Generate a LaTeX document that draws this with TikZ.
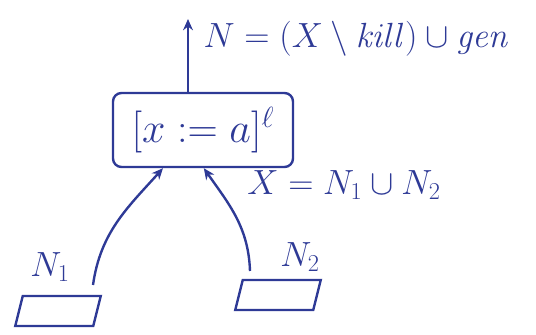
\documentclass[tikz,border=0pt]{standalone}
\usepackage{amsmath}
\usepackage{graphicx}
\usepackage{tikz}
\usepackage{xcolor}
\usetikzlibrary{positioning, arrows.meta}
\definecolor{inkBlue}{HTML}{2E3A96}

\begin{document}
\begin{tikzpicture}[
      ink/.style={draw=inkBlue, line width=1.7pt},
      stmt/.style={ink, rounded corners=6pt, minimum width=4.5cm, minimum height=1.85cm, align=center, text=inkBlue, font=\fontsize{24}{28}\selectfont},
      block/.style={ink, xslant=0.25, transform shape, minimum width=1.95cm, minimum height=0.75cm},
      lbl/.style={text=inkBlue, font=\fontsize{24}{28}\selectfont, inner sep=1pt},
      >={Stealth[length=8pt, width=7pt]},
    ]
    \useasboundingbox (0,0) rectangle (13.4,8.375);
    \node[stmt] (assign) at (5.075,5.125) {\scalebox{1.2}{$[x := a]^{\ell}$}};
    \coordinate (out) at (4.7,7.9);
    \node[lbl, anchor=west] (flow) at (5.05,7.4) {$N = (X \setminus \mathit{kill}) \cup \mathit{gen}$};
    \begin{scope}
      \node[block] (blk1) at (1.45,0.6) {};
      \node[block] (blk2) at (6.95,1.0) {};
    \end{scope}
    \node[lbl] (n1) at (1.25,1.7) {$N_1$};
    \node[lbl] (n2) at (7.5,1.95) {$N_2$};
    \node[lbl] (join) at (8.6,3.75) {$X = N_1 \cup N_2$};
    \coordinate (src1) at (2.325,1.25);
    \coordinate (src2) at (6.25,1.6);
    \draw[ink, ->] (assign.north -| out) -- (out);
    \draw[ink, ->] (src1) to[out=82, in=228] ([xshift=-1cm]assign.south);
    \draw[ink, ->] (src2) to[out=92, in=305] ([xshift=0.02cm]assign.south);
  \end{tikzpicture}
\end{document}
